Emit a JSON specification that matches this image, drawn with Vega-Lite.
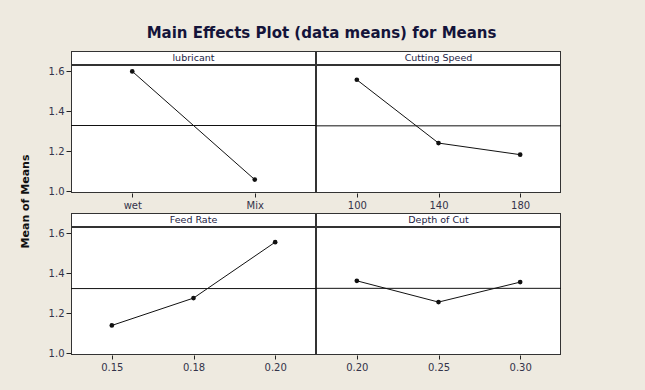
{
  "$schema": "https://vega.github.io/schema/vega-lite/v6.json",
  "background": "#EEEAE0",
  "padding": {"left": 20, "top": 26, "right": 94, "bottom": 30},
  "title": {"text": "Main Effects Plot (data means) for Means", "font": "DejaVu Sans", "fontSize": 15, "fontWeight": "bold", "color": "#14143a", "anchor": "middle", "offset": 10, "dx": 31},
  "data": {"values": [
    {"factor": "lubricant", "level": "wet", "mean": 1.599},
    {"factor": "lubricant", "level": "Mix", "mean": 1.057},
    {"factor": "Cutting Speed", "level": "100", "mean": 1.557},
    {"factor": "Cutting Speed", "level": "140", "mean": 1.240},
    {"factor": "Cutting Speed", "level": "180", "mean": 1.182},
    {"factor": "Feed Rate", "level": "0.15", "mean": 1.138},
    {"factor": "Feed Rate", "level": "0.18", "mean": 1.275},
    {"factor": "Feed Rate", "level": "0.20", "mean": 1.555},
    {"factor": "Depth of Cut", "level": "0.20", "mean": 1.3615},
    {"factor": "Depth of Cut", "level": "0.25", "mean": 1.255},
    {"factor": "Depth of Cut", "level": "0.30", "mean": 1.355}
  ]},
  "spacing": 0,
  "hconcat": [
    {
      "title": {"text": "Mean of Means", "orient": "left", "anchor": "middle", "font": "DejaVu Sans", "fontSize": 11, "fontWeight": "bold", "color": "#111", "offset": 17, "dx": 10},
      "spacing": 3,
      "vconcat": [
        {"spacing": 0, "vconcat": [
          {"data": {"values": [{"label": "lubricant"}]}, "width": 245, "height": 14,
           "layer": [
             {"mark": {"type": "rect", "fill": "white", "stroke": "#333", "strokeWidth": 2, "clip": true}, "encoding": {}},
             {"mark": {"type": "text", "font": "DejaVu Sans", "fontSize": 9.5, "color": "#1c1c44"}, "encoding": {"text": {"field": "label"}}}
           ]},
          {"width": 245, "height": 128,
           "layer": [
             {"data": {"values": [{"panel": "lubricant"}]}, "mark": {"type": "rect", "fill": "transparent", "stroke": "#333", "strokeWidth": 2, "clip": true}, "encoding": {}},
             {"transform": [{"filter": "datum.factor === 'lubricant'"}], "mark": {"type": "rule", "color": "#111", "strokeWidth": 1, "clip": true},
              "encoding": {"y": {"aggregate": "mean", "field": "mean", "type": "quantitative", "scale": {"domain": [0.99, 1.631], "nice": false, "zero": false},
                "axis": {"values": [1.0, 1.2, 1.4, 1.6], "format": ".1f", "title": null, "grid": false, "domain": false, "tickSize": 5, "tickColor": "#222", "labelFont": "DejaVu Sans", "labelFontSize": 10, "labelColor": "#33334a", "labelPadding": 2}}}},
             {"transform": [{"filter": "datum.factor === 'lubricant'"}], "mark": {"type": "line", "color": "#111", "strokeWidth": 1},
              "encoding": {"x": {"field": "level", "type": "ordinal", "sort": null, "scale": {"type": "point", "padding": 0.5}, "axis": {"title": null, "labelAngle": 0, "domain": false, "tickSize": 4, "tickColor": "#222", "labelFont": "DejaVu Sans", "labelFontSize": 10, "labelColor": "#33334a", "labelPadding": 3}},
                "y": {"field": "mean", "type": "quantitative"}}},
             {"transform": [{"filter": "datum.factor === 'lubricant'"}], "mark": {"type": "point", "filled": true, "color": "#111", "size": 22, "opacity": 1},
              "encoding": {"x": {"field": "level", "type": "ordinal", "sort": null}, "y": {"field": "mean", "type": "quantitative"}}}
           ]}
        ]},
        {"spacing": 0, "vconcat": [
          {"data": {"values": [{"label": "Feed Rate"}]}, "width": 245, "height": 14,
           "layer": [
             {"mark": {"type": "rect", "fill": "white", "stroke": "#333", "strokeWidth": 2, "clip": true}, "encoding": {}},
             {"mark": {"type": "text", "font": "DejaVu Sans", "fontSize": 9.5, "color": "#1c1c44"}, "encoding": {"text": {"field": "label"}}}
           ]},
          {"width": 245, "height": 128,
           "layer": [
             {"data": {"values": [{"panel": "Feed Rate"}]}, "mark": {"type": "rect", "fill": "transparent", "stroke": "#333", "strokeWidth": 2, "clip": true}, "encoding": {}},
             {"transform": [{"filter": "datum.factor === 'Feed Rate'"}], "mark": {"type": "rule", "color": "#111", "strokeWidth": 1, "clip": true},
              "encoding": {"y": {"aggregate": "mean", "field": "mean", "type": "quantitative", "scale": {"domain": [0.99, 1.631], "nice": false, "zero": false},
                "axis": {"values": [1.0, 1.2, 1.4, 1.6], "format": ".1f", "title": null, "grid": false, "domain": false, "tickSize": 5, "tickColor": "#222", "labelFont": "DejaVu Sans", "labelFontSize": 10, "labelColor": "#33334a", "labelPadding": 2}}}},
             {"transform": [{"filter": "datum.factor === 'Feed Rate'"}], "mark": {"type": "line", "color": "#111", "strokeWidth": 1},
              "encoding": {"x": {"field": "level", "type": "ordinal", "sort": null, "scale": {"type": "point", "padding": 0.5}, "axis": {"title": null, "labelAngle": 0, "domain": false, "tickSize": 4, "tickColor": "#222", "labelFont": "DejaVu Sans", "labelFontSize": 10, "labelColor": "#33334a", "labelPadding": 3}},
                "y": {"field": "mean", "type": "quantitative"}}},
             {"transform": [{"filter": "datum.factor === 'Feed Rate'"}], "mark": {"type": "point", "filled": true, "color": "#111", "size": 22, "opacity": 1},
              "encoding": {"x": {"field": "level", "type": "ordinal", "sort": null}, "y": {"field": "mean", "type": "quantitative"}}}
           ]}
        ]}
      ]
    },
    {
      "spacing": 3,
      "vconcat": [
        {"spacing": 0, "vconcat": [
          {"data": {"values": [{"label": "Cutting Speed"}]}, "width": 245, "height": 14,
           "layer": [
             {"mark": {"type": "rect", "fill": "white", "stroke": "#333", "strokeWidth": 2, "clip": true}, "encoding": {}},
             {"mark": {"type": "text", "font": "DejaVu Sans", "fontSize": 9.5, "color": "#1c1c44"}, "encoding": {"text": {"field": "label"}}}
           ]},
          {"width": 245, "height": 128,
           "layer": [
             {"data": {"values": [{"panel": "Cutting Speed"}]}, "mark": {"type": "rect", "fill": "transparent", "stroke": "#333", "strokeWidth": 2, "clip": true}, "encoding": {}},
             {"transform": [{"filter": "datum.factor === 'Cutting Speed'"}], "mark": {"type": "rule", "color": "#111", "strokeWidth": 1, "clip": true},
              "encoding": {"y": {"aggregate": "mean", "field": "mean", "type": "quantitative", "scale": {"domain": [0.99, 1.631], "nice": false, "zero": false}, "axis": null}}},
             {"transform": [{"filter": "datum.factor === 'Cutting Speed'"}], "mark": {"type": "line", "color": "#111", "strokeWidth": 1},
              "encoding": {"x": {"field": "level", "type": "ordinal", "sort": null, "scale": {"type": "point", "padding": 0.5}, "axis": {"title": null, "labelAngle": 0, "domain": false, "tickSize": 4, "tickColor": "#222", "labelFont": "DejaVu Sans", "labelFontSize": 10, "labelColor": "#33334a", "labelPadding": 3}},
                "y": {"field": "mean", "type": "quantitative"}}},
             {"transform": [{"filter": "datum.factor === 'Cutting Speed'"}], "mark": {"type": "point", "filled": true, "color": "#111", "size": 22, "opacity": 1},
              "encoding": {"x": {"field": "level", "type": "ordinal", "sort": null}, "y": {"field": "mean", "type": "quantitative"}}}
           ]}
        ]},
        {"spacing": 0, "vconcat": [
          {"data": {"values": [{"label": "Depth of Cut"}]}, "width": 245, "height": 14,
           "layer": [
             {"mark": {"type": "rect", "fill": "white", "stroke": "#333", "strokeWidth": 2, "clip": true}, "encoding": {}},
             {"mark": {"type": "text", "font": "DejaVu Sans", "fontSize": 9.5, "color": "#1c1c44"}, "encoding": {"text": {"field": "label"}}}
           ]},
          {"width": 245, "height": 128,
           "layer": [
             {"data": {"values": [{"panel": "Depth of Cut"}]}, "mark": {"type": "rect", "fill": "transparent", "stroke": "#333", "strokeWidth": 2, "clip": true}, "encoding": {}},
             {"transform": [{"filter": "datum.factor === 'Depth of Cut'"}], "mark": {"type": "rule", "color": "#111", "strokeWidth": 1, "clip": true},
              "encoding": {"y": {"aggregate": "mean", "field": "mean", "type": "quantitative", "scale": {"domain": [0.99, 1.631], "nice": false, "zero": false}, "axis": null}}},
             {"transform": [{"filter": "datum.factor === 'Depth of Cut'"}], "mark": {"type": "line", "color": "#111", "strokeWidth": 1},
              "encoding": {"x": {"field": "level", "type": "ordinal", "sort": null, "scale": {"type": "point", "padding": 0.5}, "axis": {"title": null, "labelAngle": 0, "domain": false, "tickSize": 4, "tickColor": "#222", "labelFont": "DejaVu Sans", "labelFontSize": 10, "labelColor": "#33334a", "labelPadding": 3}},
                "y": {"field": "mean", "type": "quantitative"}}},
             {"transform": [{"filter": "datum.factor === 'Depth of Cut'"}], "mark": {"type": "point", "filled": true, "color": "#111", "size": 22, "opacity": 1},
              "encoding": {"x": {"field": "level", "type": "ordinal", "sort": null}, "y": {"field": "mean", "type": "quantitative"}}}
           ]}
        ]}
      ]
    }
  ],
  "config": {
    "view": {"fill": "white", "stroke": null},
    "concat": {"spacing": 0}
  }
}
